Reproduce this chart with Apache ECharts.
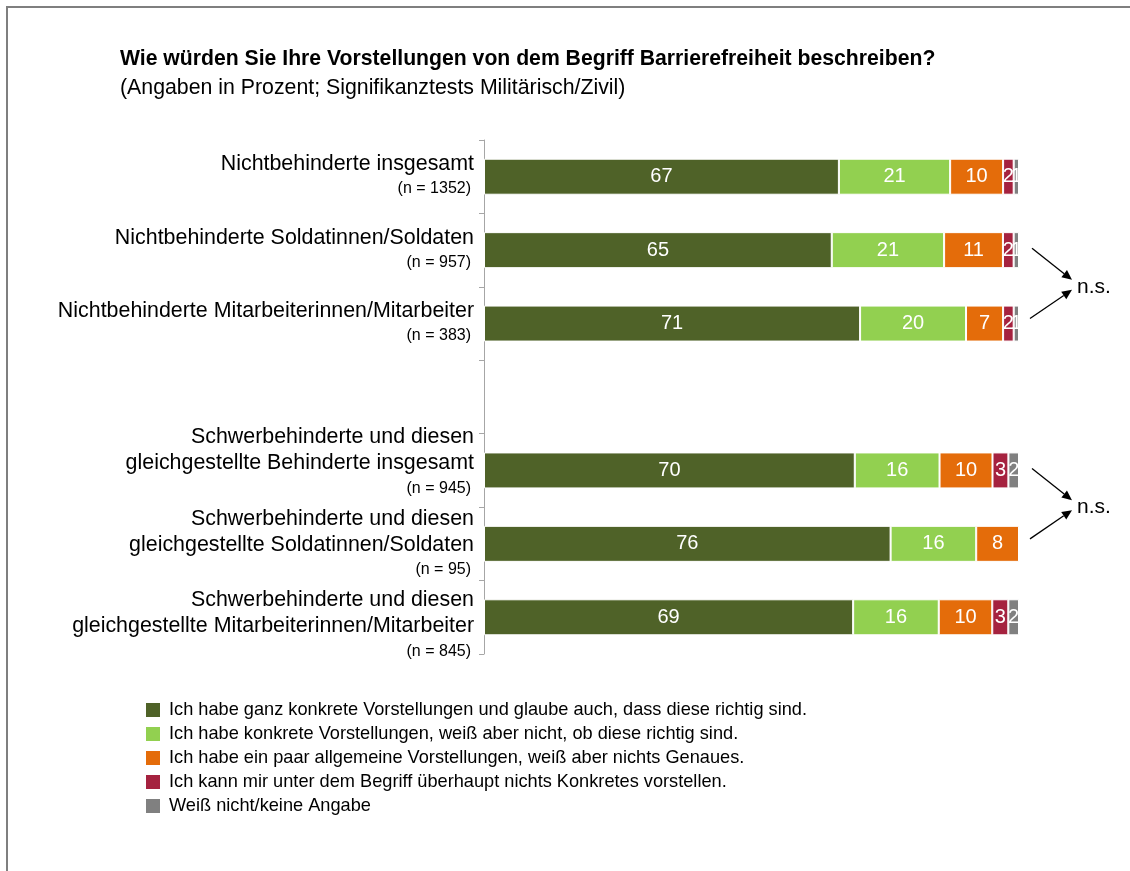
<!DOCTYPE html>
<html><head><meta charset="utf-8">
<script src="https://cdn.jsdelivr.net/npm/echarts@6/dist/echarts.min.js"></script>
<style>html,body{margin:0;padding:0;background:#fff}#c{width:1130px;height:871px}</style>
</head><body><div id="c"></div>
<script>
const categories = [
  'Nichtbehinderte insgesamt',
  'Nichtbehinderte Soldatinnen/Soldaten',
  'Nichtbehinderte Mitarbeiterinnen/Mitarbeiter',
  '',
  'Schwerbehinderte und diesen\ngleichgestellte Behinderte insgesamt',
  'Schwerbehinderte und diesen\ngleichgestellte Soldatinnen/Soldaten',
  'Schwerbehinderte und diesen\ngleichgestellte Mitarbeiterinnen/Mitarbeiter'
];
const sampleSizes = ['1352', '957', '383', '', '945', '95', '845'];
const seriesNames = [
  'Ich habe ganz konkrete Vorstellungen und glaube auch, dass diese richtig sind.',
  'Ich habe konkrete Vorstellungen, weiß aber nicht, ob diese richtig sind.',
  'Ich habe ein paar allgemeine Vorstellungen, weiß aber nichts Genaues.',
  'Ich kann mir unter dem Begriff überhaupt nichts Konkretes vorstellen.',
  'Weiß nicht/keine Angabe'
];
const concrete       = [67, 65, 71, null, 70, 76, 69];
const concreteUnsure = [21, 21, 20, null, 16, 16, 16];
const generalIdeas   = [10, 11, 7,  null, 10, 8,  10];
const nothingAtAll   = [2,  2,  2,  null, 3,  null, 3];
const dontKnow       = [1,  1,  1,  null, 2,  null, 2];
const significance = [[1, 2, 'n.s.'], [4, 5, 'n.s.']];

const colors = ['#4F6228', '#92D050', '#E46C0A', '#A5223F', '#808080'];
const allSeries = [concrete, concreteUnsure, generalIdeas, nothingAtAll, dontKnow];
const totals = categories.map((c, i) => allSeries.reduce((s, arr) => s + (arr[i] || 0), 0));
const FONT = "'Liberation Sans', Arial, sans-serif";
// small per-row label nudges (extra spacer line at top (+) or bottom (-))
const labelNudge = [0, 0, 0, 0, -1, 0, 1];

const chart = echarts.init(document.getElementById('c'), null, {renderer: 'canvas'});

const series = allSeries.map((arr, k) => ({
  name: seriesNames[k],
  type: 'bar',
  stack: 'total',
  barWidth: 36,
  itemStyle: {color: colors[k], borderColor: '#ffffff', borderWidth: 1},
  label: {
    show: true, position: 'inside', color: '#ffffff', fontSize: 20, fontFamily: FONT,
    formatter: p => (arr[p.dataIndex] == null ? '' : String(arr[p.dataIndex]))
  },
  data: arr.map((v, i) => (v == null ? null : v / totals[i] * 100))
}));

chart.setOption({
  animation: false,
  textStyle: {fontFamily: FONT},
  color: colors,
  title: {
    text: 'Wie würden Sie Ihre Vorstellungen von dem Begriff Barrierefreiheit beschreiben?',
    subtext: '(Angaben in Prozent; Signifikanztests Militärisch/Zivil)',
    left: 115, top: 44, itemGap: 8,
    textStyle: {fontSize: 21.2, fontWeight: 'bold', color: '#000', fontFamily: FONT},
    subtextStyle: {fontSize: 21.3, color: '#000', fontFamily: FONT}
  },
  legend: {
    orient: 'vertical', left: 139, top: 696,
    itemWidth: 16, itemHeight: 16, itemGap: 6, icon: 'rect',
    selectedMode: false,
    textStyle: {fontSize: 18.2, color: '#000', fontFamily: FONT, padding: [0, 0, 0, 3]},
    data: seriesNames
  },
  grid: {left: 484, right: 111, top: 140, bottom: 217},
  xAxis: {type: 'value', min: 0, max: 100, show: false},
  yAxis: {
    type: 'category', inverse: true, data: categories,
    axisLine: {lineStyle: {color: '#a6a6a6', width: 1}},
    axisTick: {show: true, length: 5, lineStyle: {color: '#a6a6a6'}},
    axisLabel: {
      interval: 0, hideOverlap: false,
      margin: 10, align: 'right',
      formatter: (value, idx) => {
        if (!value) return '';
        const parts = value.split('\n');
        const two = parts.length > 1;
        const lines = parts.map(l => (two ? '{m2|' : '{m|') + l + '}');
        lines.push((two ? '{n2|' : '{n|') + '(n = ' + sampleSizes[idx] + ')}');
        if (labelNudge[idx] > 0) lines.unshift('{s| }');
        if (labelNudge[idx] < 0) lines.push('{s| }');
        return lines.join('\n');
      },
      rich: {
        m: {fontSize: 21.4, color: '#000', fontFamily: FONT, lineHeight: 24, align: 'right'},
        n: {fontSize: 16, color: '#000', fontFamily: FONT, lineHeight: 25, align: 'right', padding: [0, 3, 0, 0]},
        m2: {fontSize: 21.4, color: '#000', fontFamily: FONT, lineHeight: 26, align: 'right'},
        n2: {fontSize: 16, color: '#000', fontFamily: FONT, lineHeight: 24, align: 'right', padding: [0, 3, 0, 0]},
        s: {fontSize: 8, lineHeight: 16}
      }
    }
  },
  series: series
});

function arrow(x1, y1, x2, y2) {
  const ang = Math.atan2(y2 - y1, x2 - x1);
  const L = 10, W = 4.5;
  const bx = x2 - L * Math.cos(ang), by = y2 - L * Math.sin(ang);
  const px = -Math.sin(ang) * W, py = Math.cos(ang) * W;
  return [
    {type: 'line', shape: {x1: x1, y1: y1, x2: bx, y2: by}, style: {stroke: '#000', lineWidth: 1.3}, silent: true},
    {type: 'polygon', shape: {points: [[x2, y2], [bx + px, by + py], [bx - px, by - py]]}, style: {fill: '#000'}, silent: true}
  ];
}

const elements = [{
  type: 'rect', shape: {x: 7, y: 7, width: 1300, height: 1000},
  style: {fill: 'none', stroke: '#7f7f7f', lineWidth: 2}, silent: true, z: -1
}];
const xEnd = chart.convertToPixel({xAxisIndex: 0}, 100);
significance.forEach(([a, b, txt]) => {
  const ya = chart.convertToPixel({yAxisIndex: 0}, a);
  const yb = chart.convertToPixel({yAxisIndex: 0}, b);
  const mid = (ya + yb) / 2;
  elements.push(...arrow(xEnd + 13, ya - 2, xEnd + 53, mid - 7));
  elements.push(...arrow(xEnd + 11, yb - 5, xEnd + 53, mid + 3));
  elements.push({
    type: 'text', x: xEnd + 58, y: mid,
    style: {text: txt, fontSize: 21, fill: '#000', fontFamily: FONT, verticalAlign: 'middle'}, silent: true
  });
});
chart.setOption({graphic: elements});
</script></body></html>
